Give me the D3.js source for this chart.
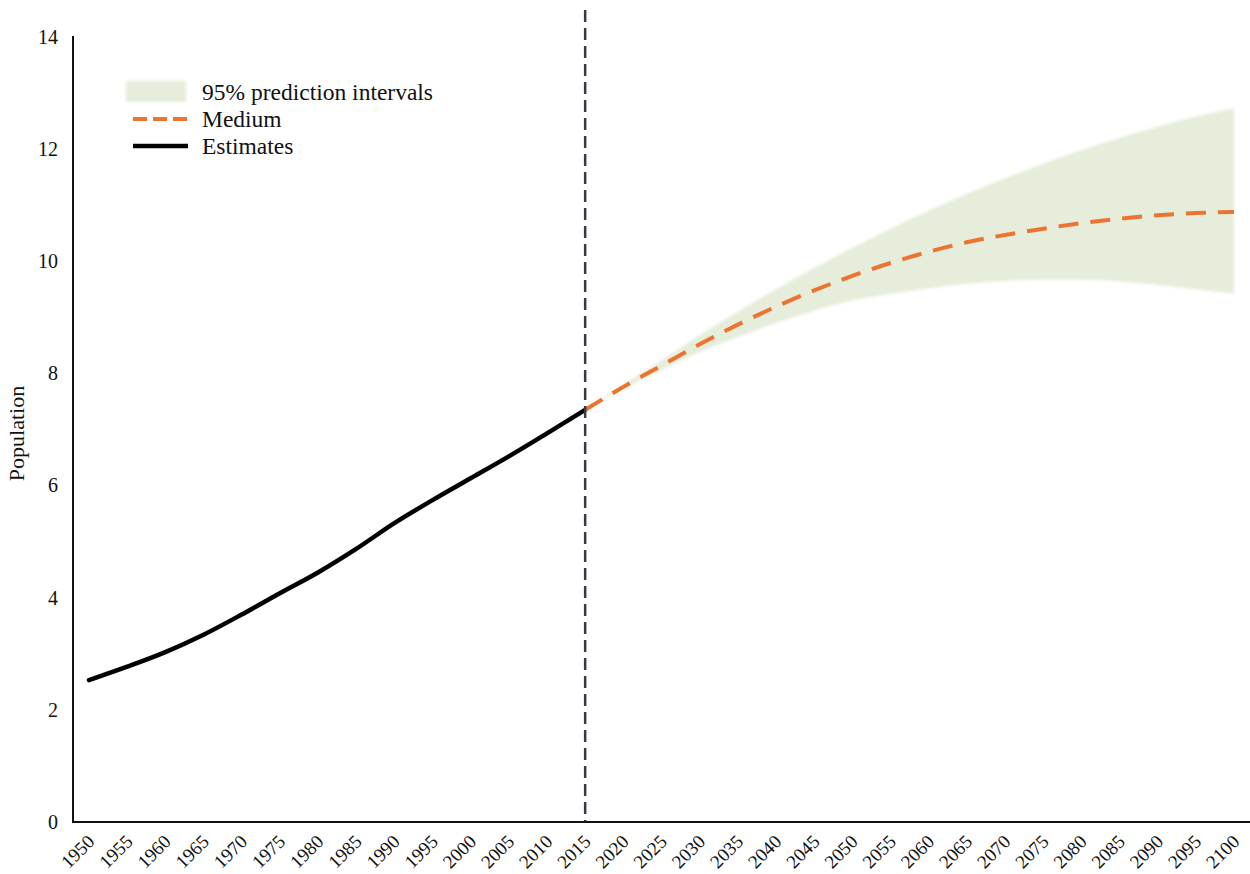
<!DOCTYPE html>
<html>
<head>
<meta charset="utf-8">
<script src="https://cdn.jsdelivr.net/npm/d3@7"></script>
<style>
  html, body { margin: 0; padding: 0; background: #ffffff; }
  svg { display: block; }
  text { font-family: "Liberation Serif", "Times New Roman", serif; fill: #111; }
</style>
</head>
<body>
<svg id="chart" width="1250" height="874"></svg>
<script>
// World population (billions): estimates and projections with 95% prediction intervals
const estYears  = [1950, 1955, 1960, 1965, 1970, 1975, 1980, 1985, 1990, 1995, 2000, 2005, 2010, 2015];
const estimates = [2.53, 2.77, 3.03, 3.34, 3.70, 4.08, 4.45, 4.87, 5.33, 5.74, 6.13, 6.52, 6.93, 7.35];

const projYears = [2015, 2020, 2025, 2030, 2035, 2040, 2045, 2050, 2055, 2060, 2065, 2070, 2075, 2080, 2085, 2090, 2095, 2100];
const medium    = [7.35, 7.76, 8.14, 8.52, 8.87, 9.19, 9.48, 9.74, 9.97, 10.17, 10.34, 10.47, 10.58, 10.68, 10.76, 10.82, 10.86, 10.88];
const lower95   = [7.35, 7.72, 8.06, 8.38, 8.65, 8.90, 9.12, 9.30, 9.42, 9.52, 9.60, 9.65, 9.67, 9.67, 9.64, 9.58, 9.50, 9.42];
const upper95   = [7.35, 7.80, 8.23, 8.68, 9.10, 9.50, 9.88, 10.24, 10.58, 10.90, 11.20, 11.48, 11.74, 11.98, 12.20, 12.40, 12.58, 12.73];

const tickYears = ["1950","1955","1960","1965","1970","1975","1980","1985","1990","1995","2000","2005","2010","2015",
                   "2020","2025","2030","2035","2040","2045","2050","2055","2060","2065","2070","2075","2080","2085",
                   "2090","2095","2100"];
const yTicks = [0, 2, 4, 6, 8, 10, 12, 14];
const dividerYear = 2015;

const legendItems = ["95% prediction intervals", "Medium", "Estimates"];

const svg = d3.select("#chart");

const x = d3.scaleLinear().domain([1950, 2100]).range([89, 1234]);
const y = d3.scaleLinear().domain([0, 14]).range([822, 37]);

const axisLeftX = 73;
const axisRight = 1250;

// soft edge for the interval band
const defs = svg.append("defs");
defs.append("filter").attr("id", "soft").attr("x", "-5%").attr("y", "-5%").attr("width", "110%").attr("height", "110%")
  .append("feGaussianBlur").attr("stdDeviation", 1.6);

const bandColor = "#e6edda";
const orange = "#ec7430";

// prediction interval band
const band = projYears.map((yr, i) => ({ yr, lo: lower95[i], hi: upper95[i] }));
svg.append("path")
  .datum(band)
  .attr("fill", bandColor)
  .attr("filter", "url(#soft)")
  .attr("d", d3.area()
    .x(d => x(d.yr))
    .y0(d => y(d.lo))
    .y1(d => y(d.hi))
    .curve(d3.curveMonotoneX));

// estimates
svg.append("path")
  .datum(estYears.map((yr, i) => ({ yr, v: estimates[i] })))
  .attr("fill", "none")
  .attr("stroke", "#000")
  .attr("stroke-width", 4.5)
  .attr("stroke-linecap", "round")
  .attr("d", d3.line().x(d => x(d.yr)).y(d => y(d.v)).curve(d3.curveMonotoneX));

// medium projection
svg.append("path")
  .datum(projYears.map((yr, i) => ({ yr, v: medium[i] })))
  .attr("fill", "none")
  .attr("stroke", orange)
  .attr("stroke-width", 4)
  .attr("stroke-dasharray", "20 12")
  .attr("d", d3.line().x(d => x(d.yr)).y(d => y(d.v)).curve(d3.curveMonotoneX));

// divider between estimates and projections
svg.append("line")
  .attr("x1", x(dividerYear)).attr("x2", x(dividerYear))
  .attr("y1", 10).attr("y2", y(0))
  .attr("stroke", "#363b46")
  .attr("stroke-width", 2.5)
  .attr("stroke-dasharray", "12 6");

// axes
const yAxis = svg.append("g").attr("transform", `translate(${axisLeftX},0)`)
  .call(d3.axisLeft(y).tickValues(yTicks).tickSize(0).tickPadding(15).tickFormat(d3.format("d")));
yAxis.select(".domain").remove();
yAxis.selectAll("text").attr("font-size", 20).attr("font-family", "Liberation Serif").attr("fill", "#111");

svg.append("line")
  .attr("x1", axisLeftX).attr("x2", axisLeftX)
  .attr("y1", y(14) - 1).attr("y2", y(0) + 1)
  .attr("stroke", "#111").attr("stroke-width", 2);

svg.append("line")
  .attr("x1", axisLeftX).attr("x2", axisRight)
  .attr("y1", y(0)).attr("y2", y(0))
  .attr("stroke", "#111").attr("stroke-width", 2);

// x tick labels, rotated
svg.append("g").selectAll("text")
  .data(tickYears)
  .join("text")
  .attr("transform", d => `translate(${x(+d) + 2},${y(0) + 16}) rotate(-45)`)
  .attr("text-anchor", "end")
  .attr("dy", "0.35em")
  .attr("font-size", 19)
  .text(d => d);

// y axis title
svg.append("text")
  .attr("transform", `translate(24,${y(7) + 4}) rotate(-90)`)
  .attr("text-anchor", "middle")
  .attr("font-size", 22)
  .text("Population");

// legend
const lg = svg.append("g");
const rowY = [92, 119, 146];
lg.append("rect")
  .attr("x", 126).attr("y", rowY[0] - 11).attr("width", 60).attr("height", 21)
  .attr("fill", bandColor).attr("filter", "url(#soft)");
lg.append("line")
  .attr("x1", 133).attr("x2", 188).attr("y1", rowY[1]).attr("y2", rowY[1])
  .attr("stroke", orange).attr("stroke-width", 4).attr("stroke-dasharray", "14 6");
lg.append("line")
  .attr("x1", 133).attr("x2", 188).attr("y1", rowY[2]).attr("y2", rowY[2])
  .attr("stroke", "#000").attr("stroke-width", 4.5);
lg.selectAll("text.lab")
  .data(legendItems)
  .join("text")
  .attr("class", "lab")
  .attr("x", 202)
  .attr("y", (d, i) => rowY[i])
  .attr("dy", "0.35em")
  .attr("font-size", 23.5)
  .text(d => d);
</script>
</body>
</html>
